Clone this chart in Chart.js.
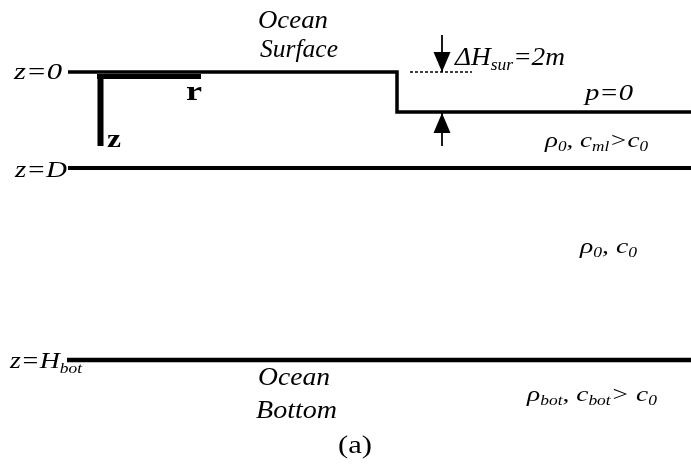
<!DOCTYPE html>
<html>
<head>
<meta charset="utf-8">
<script src="https://cdn.jsdelivr.net/npm/chart.js@4"></script>
<style>
  html, body { margin: 0; padding: 0; background: #fff; }
</style>
</head>
<body>
<canvas id="myChart" width="691" height="465"></canvas>
<script>
// picture units: x = range to the right, y = depth going down
const surfaceX = [68, 397, 397, 691]
const surfaceY = [72, 72, 112, 112]
const interfaceStart = [68, 67]      // z=D, z=H_bot
const interfaceDepth = [168, 360]
const rAxisX = [97, 201]
const rAxisY = [76.5, 76.5]
const zAxisX = [100.5, 100.5]
const zAxisY = [74, 146]
const refLevelX = [410, 472]
const refLevelY = [72, 72]
const arrowX = [442, 442]
const arrowDownY = [35, 72]
const arrowUpY = [146, 113]

// text: parts are [text, kind]  kind: i italic, s subscript, b bold, n upright
// w = width the label takes in the picture (text is stretched to fit)
const labels = [
  { x: 258, y: 28, w: 70, size: 25, parts: [['Ocean', 'i']] },
  { x: 260, y: 57, w: 78, size: 25, parts: [['Surface', 'i']] },
  { x: 14, y: 79, w: 48, size: 24, parts: [['z=0', 'i']] },
  { x: 15, y: 177, w: 52, size: 24, parts: [['z=D', 'i']] },
  { x: 10, y: 368, w: 72, size: 24, parts: [['z=H', 'i'], ['bot', 's']] },
  { x: 186, y: 100, w: 16, size: 28, parts: [['r', 'b']] },
  { x: 107, y: 147, w: 14, size: 26, parts: [['z', 'b']] },
  { x: 455, y: 65, w: 110, size: 25, parts: [['ΔH', 'i'], ['sur', 's'], ['=2m', 'i']] },
  { x: 585, y: 100, w: 48, size: 24, parts: [['p=0', 'i']] },
  { x: 545, y: 147, w: 103, size: 22, parts: [['ρ', 'i'], ['0', 's'], [', c', 'i'], ['ml', 's'], ['>c', 'i'], ['0', 's']] },
  { x: 580, y: 253, w: 57, size: 22, parts: [['ρ', 'i'], ['0', 's'], [', c', 'i'], ['0', 's']] },
  { x: 258, y: 385, w: 72, size: 25, parts: [['Ocean', 'i']] },
  { x: 256, y: 418, w: 81, size: 25, parts: [['Bottom', 'i']] },
  { x: 527, y: 401, w: 130, size: 22, parts: [['ρ', 'i'], ['bot', 's'], [', c', 'i'], ['bot', 's'], ['> c', 'i'], ['0', 's']] },
  { x: 338, y: 453, w: 34, size: 25, parts: [['(a)', 'n']] }
]

const SERIF = '"Liberation Serif", "Times New Roman", serif'

function pts(xs, ys) {
  return xs.map((x, i) => ({ x, y: ys[i] }))
}

function line(label, xs, ys, width, extra) {
  return Object.assign({
    label,
    data: pts(xs, ys),
    showLine: true,
    borderColor: '#000',
    backgroundColor: '#000',
    borderWidth: width,
    borderJoinStyle: 'miter',
    pointRadius: 0,
    fill: false
  }, extra || {})
}

const datasets = [
  line('surface', surfaceX, surfaceY, 3.5),
  line('z=D', [interfaceStart[0], 691], [interfaceDepth[0], interfaceDepth[0]], 4),
  line('z=H_bot', [interfaceStart[1], 691], [interfaceDepth[1], interfaceDepth[1]], 4.5),
  line('r', rAxisX, rAxisY, 5),
  line('z', zAxisX, zAxisY, 6),
  line('ref', refLevelX, refLevelY, 1.3, { borderDash: [3, 2] }),
  line('down', arrowX, arrowDownY, 1.8, { arrowHead: true }),
  line('up', arrowX, arrowUpY, 1.8, { arrowHead: true })
]

const arrowHeads = {
  id: 'arrowHeads',
  afterDatasetsDraw(chart) {
    const ctx = chart.ctx
    chart.data.datasets.forEach((ds, i) => {
      if (!ds.arrowHead) return
      const els = chart.getDatasetMeta(i).data
      const a = els[els.length - 2], b = els[els.length - 1]
      const ang = Math.atan2(b.y - a.y, b.x - a.x)
      const len = 20, half = 8.5
      ctx.save()
      ctx.translate(b.x, b.y)
      ctx.rotate(ang)
      ctx.beginPath()
      ctx.moveTo(0, 0)
      ctx.lineTo(-len, -half)
      ctx.lineTo(-len, half)
      ctx.closePath()
      ctx.fillStyle = '#000'
      ctx.fill()
      ctx.restore()
    })
  }
}

function partFont(kind, size) {
  const fs = kind === 's' ? Math.round(size * 0.64) : size
  const style = kind === 'b' ? 'bold ' : kind === 'n' ? '' : 'italic '
  return style + fs + 'px ' + SERIF
}

const textLabels = {
  id: 'textLabels',
  afterDraw(chart) {
    const ctx = chart.ctx
    const sx = chart.scales.x, sy = chart.scales.y
    ctx.save()
    ctx.fillStyle = '#000'
    ctx.textBaseline = 'alphabetic'
    ctx.textAlign = 'left'
    labels.forEach(l => {
      let natural = 0
      l.parts.forEach(([t, kind]) => {
        ctx.font = partFont(kind, l.size)
        natural += ctx.measureText(t).width
      })
      const x0 = sx.getPixelForValue(l.x)
      const x1 = sx.getPixelForValue(l.x + l.w)
      const f = (x1 - x0) / natural
      ctx.save()
      ctx.translate(x0, sy.getPixelForValue(l.y))
      ctx.scale(f, 1)
      let cx = 0
      l.parts.forEach(([t, kind]) => {
        ctx.font = partFont(kind, l.size)
        ctx.fillText(t, cx, kind === 's' ? l.size * 0.2 : 0)
        cx += ctx.measureText(t).width
      })
      ctx.restore()
    })
    ctx.restore()
  }
}

const config = {
  type: 'scatter',
  data: { datasets },
  options: {
    responsive: false,
    animation: false,
    devicePixelRatio: 1,
    layout: { padding: 0 },
    plugins: { legend: { display: false }, tooltip: { enabled: false } },
    scales: {
      x: { type: 'linear', min: 0, max: 691, display: false },
      y: { type: 'linear', min: 0, max: 465, reverse: true, display: false }
    }
  },
  plugins: [arrowHeads, textLabels]
}

const myChart = new Chart(document.getElementById('myChart'), config)
</script>
</body>
</html>
